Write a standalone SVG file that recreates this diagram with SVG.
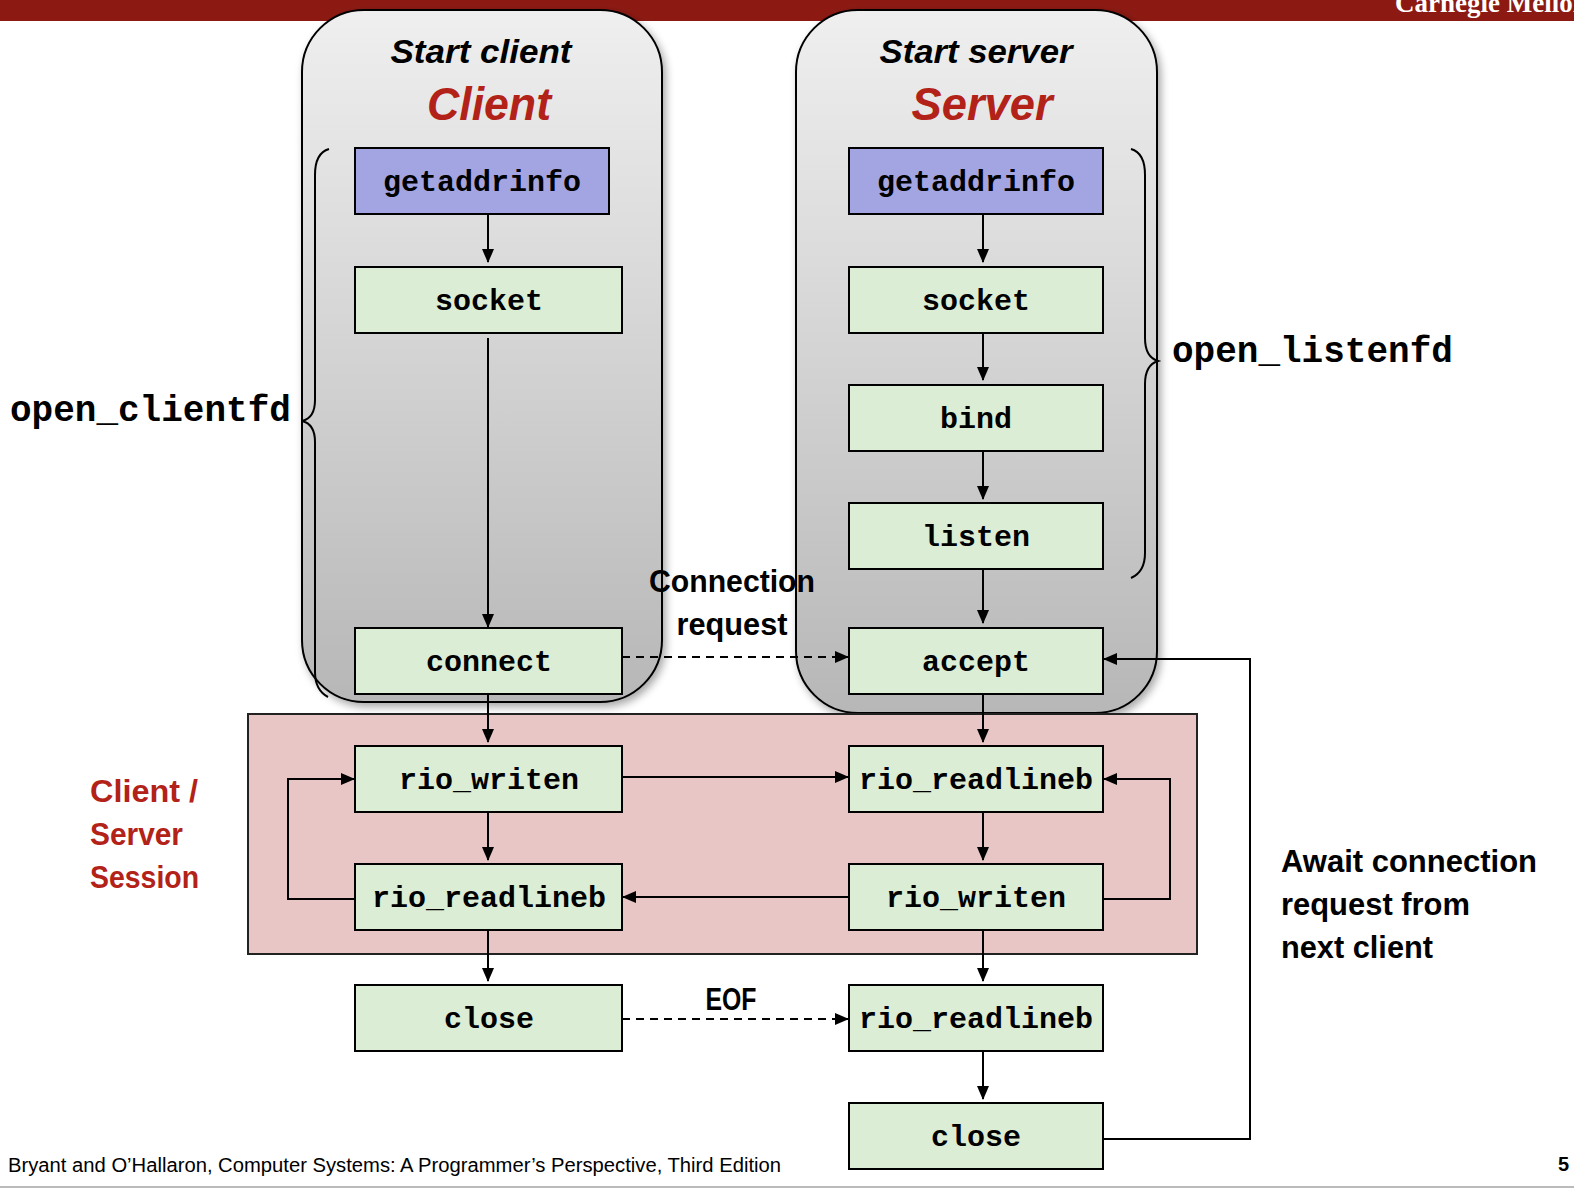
<svg xmlns="http://www.w3.org/2000/svg" width="1574" height="1188" viewBox="0 0 1574 1188">
<defs>
<linearGradient id="panelGrad" x1="0" y1="0" x2="0" y2="1">
<stop offset="0" stop-color="#efefef"/>
<stop offset="1" stop-color="#b7b7b7"/>
</linearGradient>
<filter id="shadow" x="-10%" y="-10%" width="130%" height="130%">
<feGaussianBlur in="SourceAlpha" stdDeviation="4"/>
<feOffset dx="3" dy="4"/>
<feComponentTransfer><feFuncA type="linear" slope="0.35"/></feComponentTransfer>
<feMerge><feMergeNode/><feMergeNode in="SourceGraphic"/></feMerge>
</filter>
<marker id="arr" markerWidth="14" markerHeight="14" refX="13" refY="7" orient="auto" markerUnits="userSpaceOnUse">
<path d="M0,1 L14,7 L0,13 Z" fill="#000"/>
</marker>
</defs>
<style>
.panel{fill:url(#panelGrad);stroke:#000;stroke-width:2;filter:url(#shadow)}
.box{fill:#dcedd5;stroke:#000;stroke-width:2}
.pbox{fill:#a3a5e3;stroke:#000;stroke-width:2}
.lbl{font-family:"Liberation Mono","Courier New",monospace;font-weight:bold;font-size:30px;text-anchor:middle;fill:#000}
.code{font-family:"Liberation Mono","Courier New",monospace;font-weight:bold;font-size:36px;fill:#000}
.hdr{font-family:"Liberation Sans",Arial,sans-serif;font-weight:bold;font-style:italic;text-anchor:middle}
.sans{font-family:"Liberation Sans",Arial,sans-serif;font-weight:bold;font-size:31px}
.ln{fill:none;stroke:#000;stroke-width:2}
.dash{fill:none;stroke:#000;stroke-width:2;stroke-dasharray:8,6}
.brace{fill:none;stroke:#000;stroke-width:2}
</style>
<rect x="0" y="0" width="1574" height="21" fill="#8c1a13"/>
<text x="1395" y="12" font-family="Liberation Serif,'Times New Roman',serif" font-weight="bold" font-size="27" fill="#fff">Carnegie Mellon</text>
<rect width="1574" height="1188" y="1186" fill="#bbb"/>

<g id="client-panel">
<rect class="panel" x="302" y="10" width="360" height="692" rx="62"/>
<text class="hdr" x="481" y="63" font-size="33" fill="#000" textLength="181" lengthAdjust="spacingAndGlyphs">Start client</text>
<text class="hdr" x="489" y="120" font-size="46" fill="#b22218" textLength="124" lengthAdjust="spacingAndGlyphs">Client</text>
</g>
<g id="server-panel">
<rect class="panel" x="796" y="10" width="361" height="703" rx="62"/>
<text class="hdr" x="976" y="63" font-size="33" fill="#000" textLength="193" lengthAdjust="spacingAndGlyphs">Start server</text>
<text class="hdr" x="982" y="120" font-size="46" fill="#b22218" textLength="141" lengthAdjust="spacingAndGlyphs">Server</text>
</g>
<g id="session">
<rect x="248" y="714" width="949" height="240" fill="#e8c6c6" stroke="#222" stroke-width="2"/>
</g>

<g id="braces">
<path class="brace" d="M329,149 Q315,153 315,175 L315,400 Q315,418 302,421 Q315,424 315,442 L315,672 Q315,690 328,697"/>
<path class="brace" d="M1131,149 Q1145,153 1145,175 L1145,338 Q1145,357 1158,361 Q1145,365 1145,384 L1145,553 Q1145,572 1131,578"/>
</g>

<g id="connectors">
<line class="ln" x1="488" y1="214" x2="488" y2="262" marker-end="url(#arr)"/>
<line class="ln" x1="488" y1="338" x2="488" y2="627" marker-end="url(#arr)"/>
<line class="ln" x1="488" y1="694" x2="488" y2="742" marker-end="url(#arr)"/>
<line class="ln" x1="488" y1="812" x2="488" y2="860" marker-end="url(#arr)"/>
<line class="ln" x1="488" y1="930" x2="488" y2="981" marker-end="url(#arr)"/>
<line class="ln" x1="983" y1="214" x2="983" y2="262" marker-end="url(#arr)"/>
<line class="ln" x1="983" y1="333" x2="983" y2="380" marker-end="url(#arr)"/>
<line class="ln" x1="983" y1="451" x2="983" y2="499" marker-end="url(#arr)"/>
<line class="ln" x1="983" y1="569" x2="983" y2="623" marker-end="url(#arr)"/>
<line class="ln" x1="983" y1="694" x2="983" y2="742" marker-end="url(#arr)"/>
<line class="ln" x1="983" y1="812" x2="983" y2="860" marker-end="url(#arr)"/>
<line class="ln" x1="983" y1="930" x2="983" y2="981" marker-end="url(#arr)"/>
<line class="ln" x1="983" y1="1051" x2="983" y2="1099" marker-end="url(#arr)"/>
<line class="ln" x1="622" y1="777" x2="848" y2="777" marker-end="url(#arr)"/>
<line class="ln" x1="849" y1="897" x2="623" y2="897" marker-end="url(#arr)"/>
<polyline class="ln" points="355,899 288,899 288,779 354,779" marker-end="url(#arr)"/>
<polyline class="ln" points="1103,899 1170,899 1170,779 1104,779" marker-end="url(#arr)"/>
<polyline class="ln" points="1103,1139 1250,1139 1250,659 1104,659" marker-end="url(#arr)"/>
<line class="dash" x1="622" y1="657" x2="848" y2="657" marker-end="url(#arr)"/>
<line class="dash" x1="622" y1="1019" x2="848" y2="1019" marker-end="url(#arr)"/>
</g>

<g id="c-getaddrinfo"><rect class="pbox" x="355" y="148" width="254" height="66"/><text class="lbl" x="482" y="191">getaddrinfo</text></g>
<g id="c-socket"><rect class="box" x="355" y="267" width="267" height="66"/><text class="lbl" x="489" y="310">socket</text></g>
<g id="c-connect"><rect class="box" x="355" y="628" width="267" height="66"/><text class="lbl" x="489" y="671">connect</text></g>
<g id="c-rio_writen"><rect class="box" x="355" y="746" width="267" height="66"/><text class="lbl" x="489" y="789">rio_writen</text></g>
<g id="c-rio_readlineb"><rect class="box" x="355" y="864" width="267" height="66"/><text class="lbl" x="489" y="907">rio_readlineb</text></g>
<g id="c-close"><rect class="box" x="355" y="985" width="267" height="66"/><text class="lbl" x="489" y="1028">close</text></g>

<g id="s-getaddrinfo"><rect class="pbox" x="849" y="148" width="254" height="66"/><text class="lbl" x="976" y="191">getaddrinfo</text></g>
<g id="s-socket"><rect class="box" x="849" y="267" width="254" height="66"/><text class="lbl" x="976" y="310">socket</text></g>
<g id="s-bind"><rect class="box" x="849" y="385" width="254" height="66"/><text class="lbl" x="976" y="428">bind</text></g>
<g id="s-listen"><rect class="box" x="849" y="503" width="254" height="66"/><text class="lbl" x="976" y="546">listen</text></g>
<g id="s-accept"><rect class="box" x="849" y="628" width="254" height="66"/><text class="lbl" x="976" y="671">accept</text></g>
<g id="s-rio_readlineb1"><rect class="box" x="849" y="746" width="254" height="66"/><text class="lbl" x="976" y="789">rio_readlineb</text></g>
<g id="s-rio_writen"><rect class="box" x="849" y="864" width="254" height="66"/><text class="lbl" x="976" y="907">rio_writen</text></g>
<g id="s-rio_readlineb2"><rect class="box" x="849" y="985" width="254" height="66"/><text class="lbl" x="976" y="1028">rio_readlineb</text></g>
<g id="s-close"><rect class="box" x="849" y="1103" width="254" height="66"/><text class="lbl" x="976" y="1146">close</text></g>

<g id="labels">
<text class="code" x="10" y="421">open_clientfd</text>
<text class="code" x="1172" y="362">open_listenfd</text>
<text class="sans" x="732" y="592" text-anchor="middle" textLength="166" lengthAdjust="spacingAndGlyphs">Connection</text>
<text class="sans" x="732" y="635" text-anchor="middle" textLength="111" lengthAdjust="spacingAndGlyphs">request</text>
<text class="sans" x="731" y="1010" text-anchor="middle" font-size="27" textLength="51" lengthAdjust="spacingAndGlyphs">EOF</text>
<text class="sans" fill="#b22218" x="90" y="802" textLength="108" lengthAdjust="spacingAndGlyphs">Client /</text>
<text class="sans" fill="#b22218" x="90" y="845" textLength="93" lengthAdjust="spacingAndGlyphs">Server</text>
<text class="sans" fill="#b22218" x="90" y="888" textLength="109" lengthAdjust="spacingAndGlyphs">Session</text>
<text class="sans" x="1281" y="872" textLength="256" lengthAdjust="spacingAndGlyphs">Await connection</text>
<text class="sans" x="1281" y="915" textLength="189" lengthAdjust="spacingAndGlyphs">request from</text>
<text class="sans" x="1281" y="958" textLength="152" lengthAdjust="spacingAndGlyphs">next client</text>
<text x="8" y="1172" font-family="'Liberation Sans',Arial,sans-serif" font-size="20" fill="#000" textLength="773" lengthAdjust="spacingAndGlyphs">Bryant and O’Hallaron, Computer Systems: A Programmer’s Perspective, Third Edition</text>
<text x="1558" y="1171" font-family="'Liberation Sans',Arial,sans-serif" font-weight="bold" font-size="20" fill="#000">5</text>
</g>
</svg>
